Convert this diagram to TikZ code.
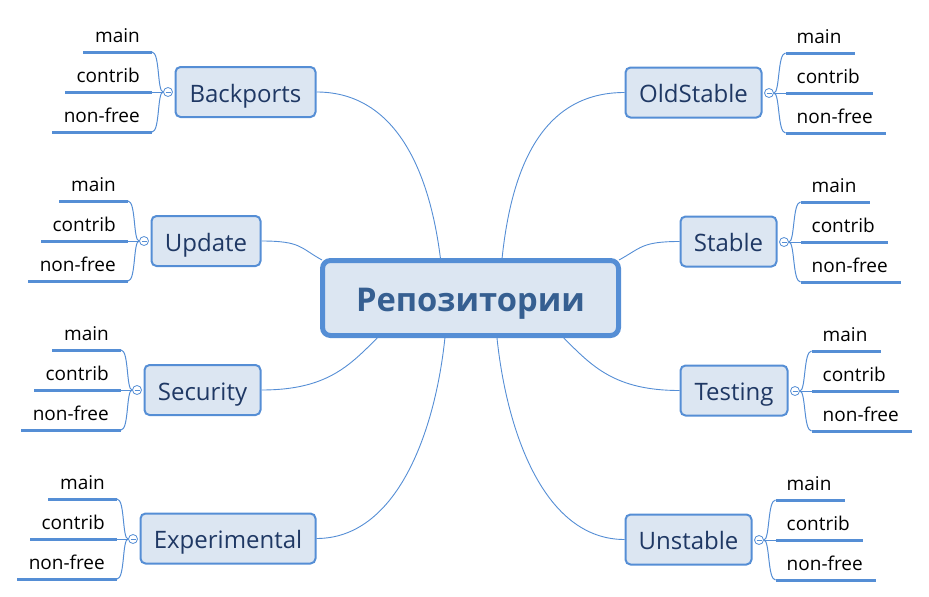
\documentclass[tikz,border=0pt]{standalone}
\usepackage{fontspec}
\setmainfont{Open Sans}
\usetikzlibrary{calc}
\definecolor{mmblue}{RGB}{85,142,213}
\definecolor{mmfill}{RGB}{220,230,242}
\definecolor{mmtext}{RGB}{31,56,100}
\definecolor{mmroot}{RGB}{54,95,145}
\tikzset{
  rootbox/.style={draw=mmblue, line width=5pt, fill=mmfill, rounded corners=8pt,
    minimum width=296pt, minimum height=75pt, inner sep=0pt, text=mmroot,
    text height=27pt, text depth=1pt,
    font=\fontsize{32.7}{38}\selectfont\bfseries},
  branchbox/.style={draw=mmblue, line width=2pt, fill=mmfill, rounded corners=5pt,
    minimum height=50pt, inner sep=0pt, text=mmtext,
    text height=21pt, text depth=1pt,
    font=\fontsize{24}{28}\selectfont},
  knob/.style={circle, draw=mmblue, line width=0.8pt, fill=white, minimum size=9pt, inner sep=0pt},
  knobminus/.style={draw=mmblue, line width=0.6pt},
  link/.style={draw=mmblue, line width=0.9pt},
  brace/.style={draw=mmblue, line width=1pt},
  leafline/.style={draw=mmblue, line width=3pt},
  leaf/.style={inner sep=0pt, text=black, font=\fontsize{19}{22}\selectfont},
}
\newcommand\mmLeft[3]{%
  \node[knob] (#1k) at (#2,#3) {};
  \draw[knobminus] ({#2-2.5},#3) -- ({#2+2.5},#3);
  \coordinate (#1m1) at ({#2-16},{#3-40});
  \coordinate (#1m0) at ({#2-16-69},{#3-40});
  \coordinate (#1c1) at ({#2-16},{#3});
  \coordinate (#1c0) at ({#2-16-87},{#3});
  \coordinate (#1n1) at ({#2-16},{#3+40});
  \coordinate (#1n0) at ({#2-16-100},{#3+40});
  \draw[brace] (#1k.west) .. controls +(-6,0) and +(8,0) .. (#1m1);
  \draw[brace] (#1k.west) -- (#1c1);
  \draw[brace] (#1k.west) .. controls +(-6,0) and +(8,0) .. (#1n1);
  \draw[leafline] (#1m0) -- (#1m1);
  \draw[leafline] (#1c0) -- (#1c1);
  \draw[leafline] (#1n0) -- (#1n1);
  \node[leaf, anchor=base east] (#1mt) at ({#2-28},{#3-49.5}) {main};
  \node[leaf, anchor=base east] (#1ct) at ({#2-28},{#3-9.5}) {contrib};
  \node[leaf, anchor=base east] (#1nt) at ({#2-28},{#3+30.5}) {non-free};
}
\newcommand\mmRight[3]{%
  \node[knob] (#1k) at (#2,#3) {};
  \draw[knobminus] ({#2-2.5},#3) -- ({#2+2.5},#3);
  \coordinate (#1m1) at ({#2+16.5},{#3-40});
  \coordinate (#1m0) at ({#2+16.5+69},{#3-40});
  \coordinate (#1c1) at ({#2+16.5},{#3});
  \coordinate (#1c0) at ({#2+16.5+87},{#3});
  \coordinate (#1n1) at ({#2+16.5},{#3+40});
  \coordinate (#1n0) at ({#2+16.5+100},{#3+40});
  \draw[brace] (#1k.east) .. controls +(6,0) and +(-8,0) .. (#1m1);
  \draw[brace] (#1k.east) -- (#1c1);
  \draw[brace] (#1k.east) .. controls +(6,0) and +(-8,0) .. (#1n1);
  \draw[leafline] (#1m0) -- (#1m1);
  \draw[leafline] (#1c0) -- (#1c1);
  \draw[leafline] (#1n0) -- (#1n1);
  \node[leaf, anchor=base west] (#1mt) at ({#2+27.5},{#3-49.5}) {main};
  \node[leaf, anchor=base west] (#1ct) at ({#2+27.5},{#3-9.5}) {contrib};
  \node[leaf, anchor=base west] (#1nt) at ({#2+27.5},{#3+30.5}) {non-free};
}
\begin{document}
\begin{tikzpicture}[x=1pt,y=-1pt]
\useasboundingbox (0,0) rectangle (929,597);
\node[rootbox] (root) at (470.5,298) {Репозитории};
\node[branchbox, minimum width=140pt] (bp) at (245.5,92) {Backports};
\node[branchbox, minimum width=109pt] (up) at (206,241) {Update};
\node[branchbox, minimum width=116pt] (se) at (202.5,390) {Security};
\node[branchbox, minimum width=175pt] (ex) at (228,538.5) {Experimental};
\node[branchbox, minimum width=136pt] (os) at (693.5,92.5) {OldStable};
\node[branchbox, minimum width=96pt] (st) at (728.5,241.5) {Stable};
\node[branchbox, minimum width=107pt] (te) at (734,390.5) {Testing};
\node[branchbox, minimum width=126pt] (un) at (688.5,539.5) {Unstable};
\coordinate (r1) at ($(root.north west)!0.40!(root.north east)$);
\coordinate (r2) at ($(root.north west)+(2,2)$);
\coordinate (r3) at ($(root.south west)!0.19!(root.south east)$);
\coordinate (r4) at ($(root.south west)!0.415!(root.south east)$);
\coordinate (r5) at ($(root.north west)!0.605!(root.north east)$);
\coordinate (r6) at ($(root.north east)+(-2,2)$);
\coordinate (r7) at ($(root.south west)!0.81!(root.south east)$);
\coordinate (r8) at ($(root.south west)!0.588!(root.south east)$);
\draw[link] (bp.east) .. controls +(75,0) and +(-12,-95) .. (r1);
\draw[link] (up.east) .. controls +(40,0) and +(-22,-12) .. (r2);
\draw[link] (se.east) .. controls +(65,0) and +(-28,28) .. (r3);
\draw[link] (ex.east) .. controls +(80,0) and +(-10,95) .. (r4);
\draw[link] (os.west) .. controls +(-80,0) and +(10,-95) .. (r5);
\draw[link] (st.west) .. controls +(-38,0) and +(22,-12) .. (r6);
\draw[link] (te.west) .. controls +(-65,0) and +(28,28) .. (r7);
\draw[link] (un.west) .. controls +(-80,0) and +(10,95) .. (r8);
\mmLeft{a}{168}{92}
\mmLeft{b}{144}{241}
\mmLeft{c}{137}{390}
\mmLeft{d}{133}{539}
\mmRight{e}{769}{93}
\mmRight{f}{784}{242}
\mmRight{g}{795}{391}
\mmRight{h}{759}{540}
\end{tikzpicture}
\end{document}
